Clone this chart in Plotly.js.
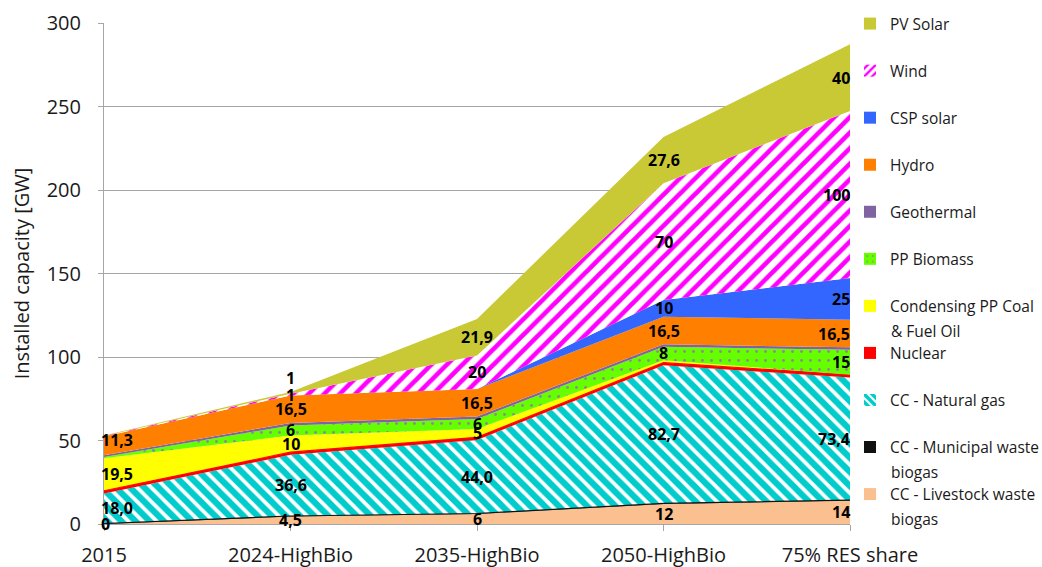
<!DOCTYPE html>
<html>
<head>
<meta charset="utf-8">
<script src="https://cdn.plot.ly/plotly-3.0.1.min.js"></script>
<style>html,body{margin:0;padding:0;background:#fff;}#chart{width:1042px;height:567px;}</style>
</head>
<body>
<div id="chart"></div>
<script>
// ---- data (GW) ----
const categories = ['2015', '2024-HighBio', '2035-HighBio', '2050-HighBio', '75% RES share'];
const livestock  = [0, 4.5, 6, 12, 14];
const municipal  = [0.3, 0.3, 0.3, 0.3, 0.3];
const naturalGas = [18.0, 36.6, 44.0, 82.7, 73.4];
const nuclear    = [1.6, 1.6, 1.6, 1.6, 1.6];
const condensing = [19.5, 10, 5, 1.5, 0];
const biomass    = [0.7, 6, 6, 8, 15];
const geothermal = [1.0, 1.5, 1.5, 1.5, 1.5];
const hydro      = [11.3, 16.5, 16.5, 16.5, 16.5];
const csp        = [0, 0, 0, 10, 25];
const wind       = [0.3, 1, 20, 70, 100];
const pv         = [0.3, 1, 21.9, 27.6, 40];

// which data labels are shown (per series, per category)
const livestockLabels  = [true, true, true, true, true];
const naturalGasLabels = [true, true, true, true, true];
const condensingLabels = [true, true, true, false, false];
const biomassLabels    = [false, true, true, true, true];
const hydroLabels      = [true, true, true, true, true];
const cspLabels        = [false, false, false, true, true];
const windLabels       = [false, true, true, true, true];
const pvLabels         = [false, true, true, true, true];

const legendNames = ['PV Solar', 'Wind', 'CSP solar', 'Hydro', 'Geothermal', 'PP Biomass',
  'Condensing PP Coal', 'Nuclear', 'CC - Natural gas', 'CC - Municipal waste', 'CC - Livestock waste'];
const legendSecondLines = {6: '& Fuel Oil', 9: 'biogas', 10: 'biogas'};

// ---- series definitions (bottom -> top) ----
const FONT = 'Open Sans, Lato, sans-serif';
const series = [
  {name: 'CC - Livestock waste biogas', y: livestock, color: '#FAC090', labels: livestockLabels, dec: null},
  {name: 'CC - Municipal waste biogas', y: municipal, color: '#111111', line: 1.2},
  {name: 'CC - Natural gas', y: naturalGas, color: '#00CCCC', labels: naturalGasLabels, dec: 1,
    pattern: {shape: '\\', bgcolor: '#ffffff', fgcolor: '#00CCCC', size: 10, solidity: 0.62}},
  {name: 'Nuclear', y: nuclear, color: '#FF0000', line: 1.2},
  {name: 'Condensing PP Coal & Fuel Oil', y: condensing, color: '#FFFF00', labels: condensingLabels, dec: null},
  {name: 'PP Biomass', y: biomass, color: '#66FF00', labels: biomassLabels, dec: null,
    pattern: {shape: '.', bgcolor: '#66FF00', fgcolor: '#8c8c8c', size: 9, solidity: 0.08}},
  {name: 'Geothermal', y: geothermal, color: '#8064A2'},
  {name: 'Hydro', y: hydro, color: '#FF8000', labels: hydroLabels, dec: null},
  {name: 'CSP solar', y: csp, color: '#3366FF', labels: cspLabels, dec: null},
  {name: 'Wind', y: wind, color: '#FF00FF', labels: windLabels, dec: null,
    pattern: {shape: '/', bgcolor: '#ffffff', fgcolor: '#FF00FF', size: 11, solidity: 0.42}},
  {name: 'PV Solar', y: pv, color: '#C9C935', labels: pvLabels, dec: null}
];

const traces = [];
series.forEach(s => {
  const t = {
    type: 'scatter', mode: 'lines', x: categories, y: s.y, name: s.name,
    stackgroup: 'one', showlegend: false, hoverinfo: 'skip',
    line: {width: s.line || 0, color: s.color, shape: 'linear'},
    fillcolor: s.color
  };
  if (s.pattern) t.fillpattern = Object.assign({fillmode: 'replace'}, s.pattern);
  traces.push(t);
});

// legend swatches (top -> bottom), drawn as zero-height bar traces
const legendOrder = [10, 9, 8, 7, 6, 5, 4, 3, 2, 1, 0];
legendOrder.forEach((si, k) => {
  const s = series[si];
  const m = {color: s.color, line: {width: 0}};
  if (s.pattern) m.pattern = Object.assign({fillmode: 'replace'}, s.pattern, {size: 7});
  traces.push({type: 'bar', x: [categories[0]], y: [0], name: legendNames[k], legendgroup: 'g' + k,
    showlegend: true, marker: m, hoverinfo: 'skip', width: 0.01});
});

// data labels centered in each band
const annotations = [];
const base = categories.map(() => 0);
series.forEach(s => {
  s.y.forEach((v, i) => {
    const mid = base[i] + v / 2;
    if (s.labels && s.labels[i]) {
      const txt = (s.dec ? v.toFixed(s.dec) : String(v)).replace('.', ',');
      const a = {x: i, y: mid, xref: 'x', yref: 'y', text: txt, showarrow: false,
        font: {family: FONT, size: 16, color: '#000', weight: 'bold'}};
      if (i === 0) { a.xanchor = 'left'; a.xshift = -5; }
      if (i === categories.length - 1) { a.xanchor = 'right'; a.xshift = 2; }
      if (s.name === 'PV Solar' && i === 1) a.yshift = 15;
      if (s.name === 'Hydro' && i === 0) a.yshift = 6;
      annotations.push(a);
    }
    base[i] += v;
  });
});

// second lines of the two-line legend entries
const legendTop = 23, legendStep = 47.1, H = 567;
Object.keys(legendSecondLines).forEach(k => {
  const ypx = legendTop + Number(k) * legendStep + 25;
  annotations.push({xref: 'paper', yref: 'paper', x: (890 - 104) / 747, xanchor: 'left',
    y: 1 - (ypx - 23) / 501, yanchor: 'middle', showarrow: false,
    text: legendSecondLines[k], font: {family: FONT, size: 15.5, color: '#1a1a1a'}});
});

const layout = {
  width: 1042, height: 567,
  margin: {l: 104, r: 191, t: 23, b: 43, pad: 0},
  paper_bgcolor: '#ffffff', plot_bgcolor: '#ffffff',
  showlegend: true,
  font: {family: FONT, color: '#1a1a1a'},
  xaxis: {
    type: 'category', range: [0, 4], showgrid: false, zeroline: false,
    showline: true, linecolor: '#a6a6a6', linewidth: 1,
    ticks: 'outside', ticklen: 6, tickcolor: '#a6a6a6', ticklabelstandoff: 7,
    tickfont: {family: FONT, size: 20, color: '#1a1a1a'}, fixedrange: true
  },
  yaxis: {
    range: [0, 300], dtick: 50, showgrid: true, gridcolor: '#a6a6a6', gridwidth: 1,
    zeroline: false, showline: true, linecolor: '#a6a6a6', linewidth: 1,
    ticks: 'outside', ticklen: 5, tickcolor: '#a6a6a6', ticklabelstandoff: 13,
    tickfont: {family: FONT, size: 20, color: '#1a1a1a'},
    title: {text: 'Installed capacity [GW]', font: {family: FONT, size: 20, color: '#1a1a1a'}, standoff: 11},
    fixedrange: true
  },
  legend: {
    xref: 'container', yref: 'container',
    x: 850 / 1042, xanchor: 'left', y: 1 - 7 / H, yanchor: 'top',
    maxheight: 1,
    traceorder: 'grouped', tracegroupgap: 23.9,
    bgcolor: 'rgba(0,0,0,0)', borderwidth: 0,
    font: {family: FONT, size: 15.5, color: '#1a1a1a'}
  },
  annotations: annotations
};

Plotly.newPlot('chart', traces, layout, {displayModeBar: false, staticPlot: true});
</script>
</body>
</html>
